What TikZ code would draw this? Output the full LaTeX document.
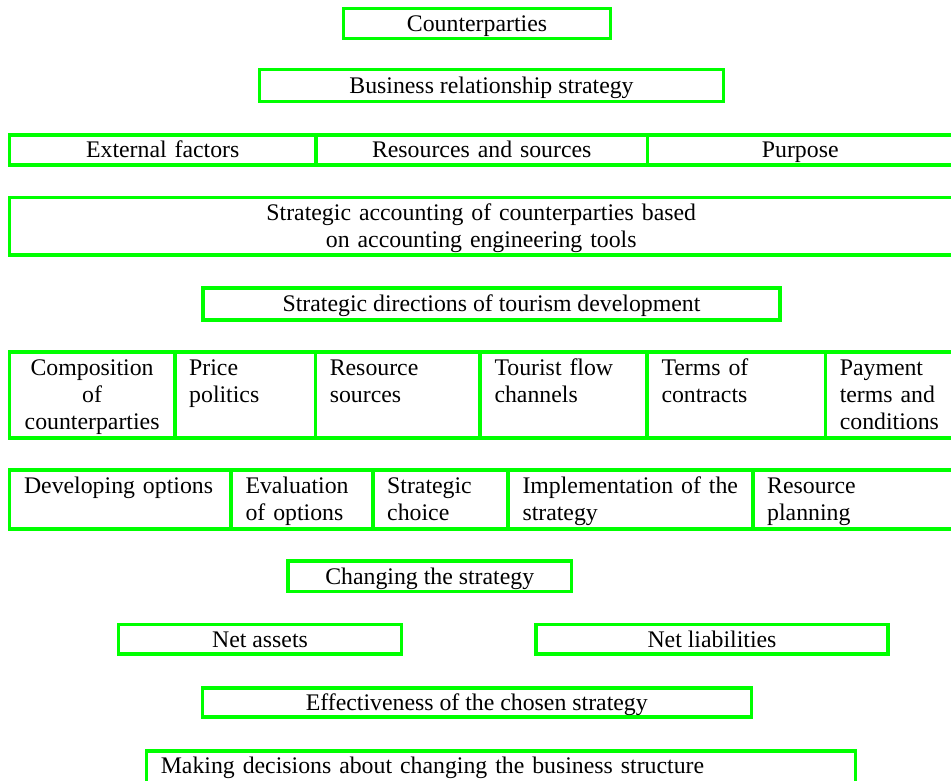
\documentclass[tikz,border=0pt]{standalone}
\usepackage{fontspec}
\setmainfont{Liberation Serif}
\usetikzlibrary{positioning}
\definecolor{boxgreen}{RGB}{0,255,0}

\begin{document}
\begin{tikzpicture}[
  x=1pt, y=-1pt,
  every node/.style={font=\fontsize{23.8pt}{27pt}\selectfont},
  box/.style={draw=boxgreen, line width=3.6pt, inner sep=0pt, outer sep=0pt, text height=16pt, text depth=0pt},
  band/.style={box, text width=#1, inner xsep=14.5pt, align=center, minimum height=30pt},
  tall/.style={box, text width=#1, inner xsep=14.5pt, align=left, text height=23.3pt, text depth=62.7pt},
  mid/.style={box, text width=#1, inner xsep=14.5pt, align=left, text height=23.6pt, text depth=35.4pt}
]
\useasboundingbox (0,0) rectangle (951,780);

% ---------------- top ----------------
\node[box, minimum width=267pt, minimum height=30pt] (counterparties) at (477,23.5) {Counterparties};
\node[box, minimum width=464pt, minimum height=32pt] (relationship) at (491.5,85.5) {Business relationship strategy};

% factors row
\node[band=277.5pt, anchor=north west] (external) at (9.5,134.7) {External factors};
\node[band=302.5pt, right=0pt of external] (resources) {Resources and sources};
\node[band=276.5pt, right=0pt of resources] (purpose) {Purpose};

\node[box, anchor=north west, text width=943.5pt, align=center, text height=22.7pt, text depth=35pt] (accounting) at (9.5,197.3)
  {Strategic accounting of counterparties based\\on accounting engineering tools};

\node[box, minimum width=577pt, minimum height=32pt] (directions) at (491.5,303.7) {Strategic directions of tourism development};

% ---------------- directions row ----------------
\node[tall=136.2pt, align=center, anchor=north west] (composition) at (9.5,351.7) {Composition\\of\\counterparties};
\node[tall=111.6pt, right=0pt of composition] (price) {Price\\politics};
\node[tall=135.7pt, right=0pt of price] (sources) {Resource\\sources};
\node[tall=138pt, right=0pt of sources] (channels) {Tourist flow\\channels};
\node[tall=149.3pt, right=0pt of channels] (contracts) {Terms of\\contracts};
\node[tall=100pt, right=0pt of contracts] (payment) {Payment\\terms and\\conditions};

% ---------------- strategy steps row ----------------
\node[mid=192.5pt, anchor=north west] (developing) at (9.5,469.7) {Developing options};
\node[mid=112.7pt, right=0pt of developing] (evaluation) {Evaluation\\of options};
\node[mid=106.3pt, right=0pt of evaluation] (choice) {Strategic\\choice};
\node[mid=215.7pt, right=0pt of choice] (implementation) {\mbox{Implementation of the}\\strategy};
\node[mid=171.3pt, right=0pt of implementation] (planning) {Resource\\planning};

% ---------------- bottom ----------------
\node[box, minimum width=283.3pt, minimum height=30.3pt] (changing) at (429.7,576.2) {Changing the strategy};
\node[box, minimum width=282.7pt, minimum height=29.7pt] (assets) at (260,639.2) {Net assets};
\node[box, minimum width=352pt, minimum height=29.7pt] (liabilities) at (712,639.2) {Net liabilities};
\node[box, minimum width=549pt, minimum height=29pt] (effectiveness) at (476.8,702.2) {Effectiveness of the chosen strategy};
\node[box, anchor=north west, text width=680pt, inner xsep=14.5pt, align=left, text height=22.3pt, text depth=20pt] (decisions) at (146.3,750.7)
  {Making decisions about changing the business structure};

\end{tikzpicture}
\end{document}
